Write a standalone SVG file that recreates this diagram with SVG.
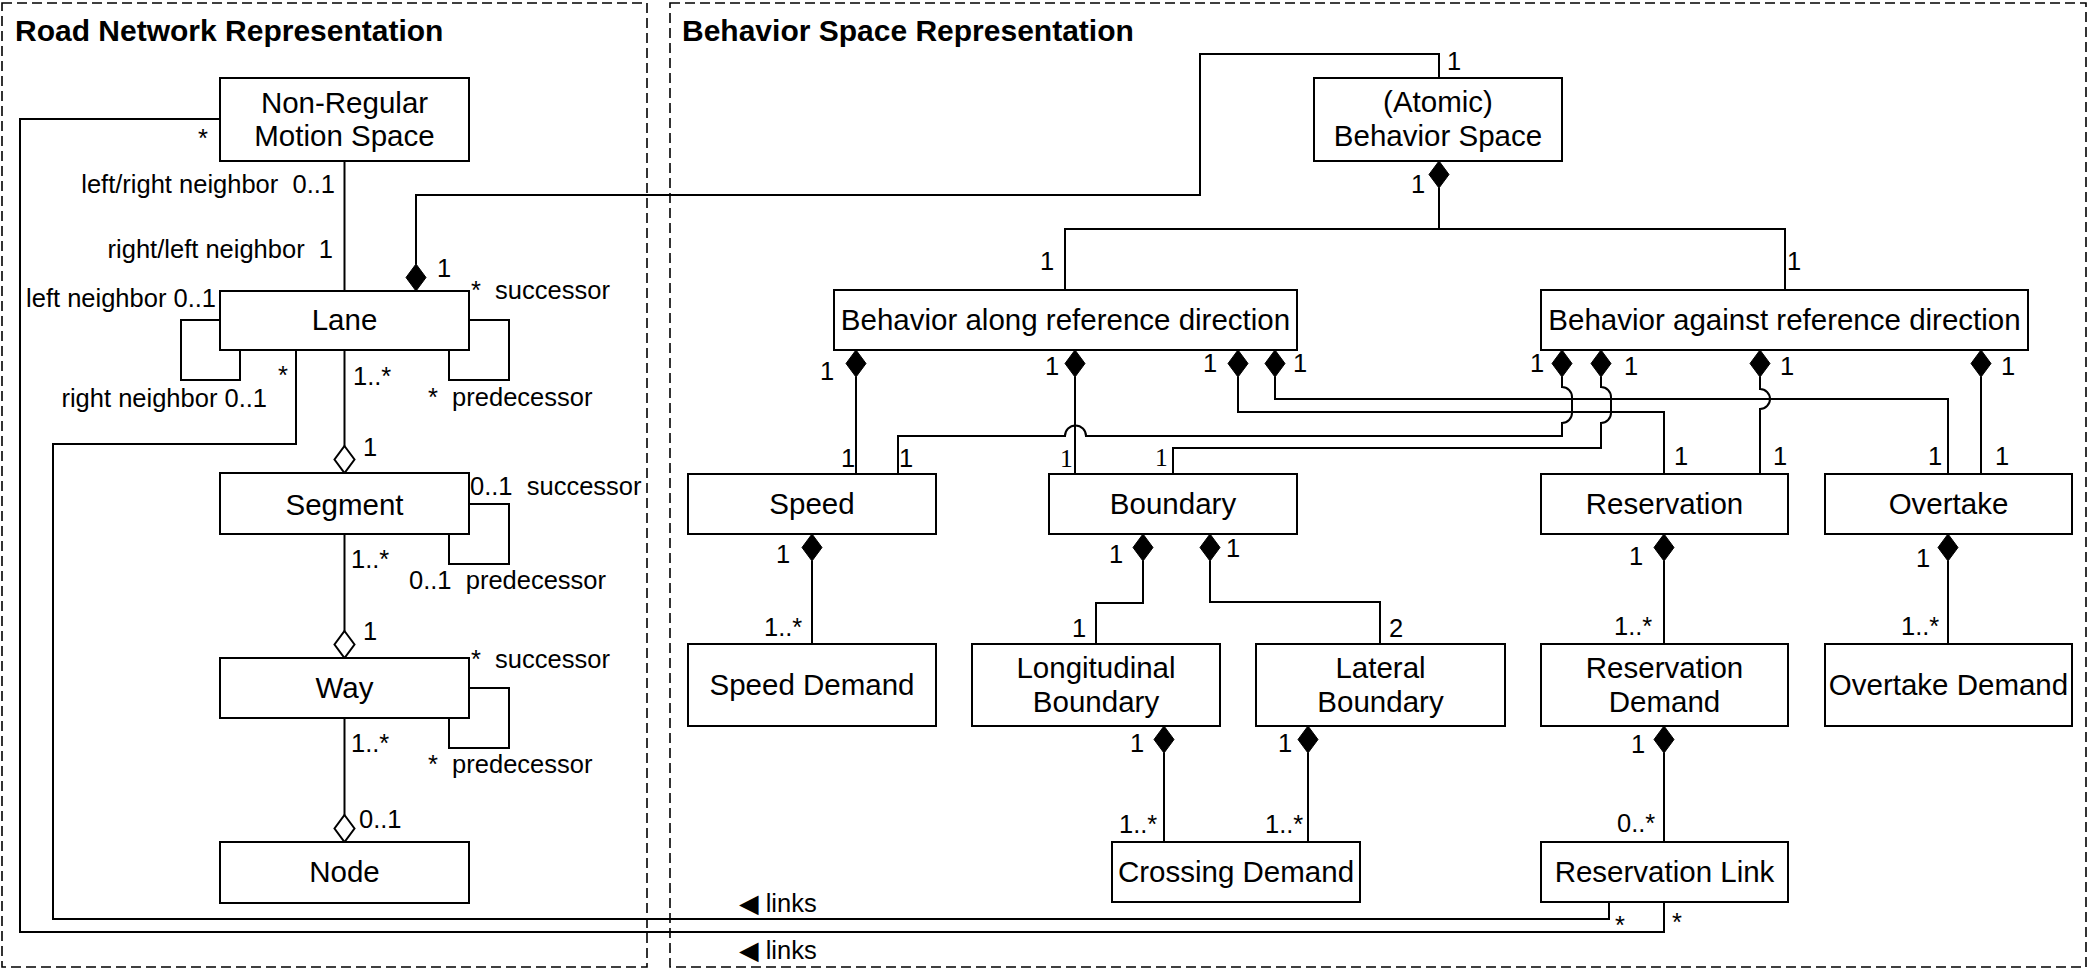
<svg xmlns="http://www.w3.org/2000/svg" width="2090" height="972" viewBox="0 0 2090 972">
<style>
text{font-family:"Liberation Sans",Arial,"DejaVu Sans",sans-serif;fill:#000}
.box{fill:#fff;stroke:#000;stroke-width:2}
.bl{font-size:29.5px;text-anchor:middle}
.lbl{font-size:25.5px;white-space:pre}
.end{text-anchor:end}
.serif{font-family:"Liberation Serif","Times New Roman",serif}
.title{font-size:30px;font-weight:bold}
.panel{fill:none;stroke:#000;stroke-width:1.6;stroke-dasharray:10 5}
.ln{fill:none;stroke:#000;stroke-width:2}
.fd{fill:#000;stroke:#000;stroke-width:1}
.hd{fill:#fff;stroke:#000;stroke-width:2}
</style>
<defs>
<polygon id="dm" points="0,0 10,13.5 0,27 -10,13.5"/>
</defs>
<rect width="2090" height="972" fill="#fff"/>
<g id="panels">
<rect class="panel" x="2" y="3" width="645" height="964"/>
<rect class="panel" x="670" y="3" width="1416" height="964"/>
<text class="title" x="15" y="41">Road Network Representation</text>
<text class="title" x="682" y="41">Behavior Space Representation</text>
</g>
<g id="connectors">
<path class="ln" d="M344.5,161 V291"/>
<path class="ln" d="M416,264 V195 H1200 V54 H1439 V78"/>
<path class="ln" d="M220,320 H181 V380 H240 V350"/>
<path class="ln" d="M469,320 H509 V380 H449 V350"/>
<path class="ln" d="M469,504 H509 V564 H449 V534"/>
<path class="ln" d="M469,688 H509 V748 H449 V718"/>
<path class="ln" d="M344.5,350 V446"/>
<path class="ln" d="M344.5,534 V631"/>
<path class="ln" d="M344.5,718 V815"/>
<path class="ln" d="M296,350 V444 H53 V919 H1609 V902"/>
<path class="ln" d="M220,119 H20 V932 H1664 V902"/>
<path class="ln" d="M1439,188 V229 M1065,290 V229 H1785 V290"/>
<path class="ln" d="M856,377 V474"/>
<path class="ln" d="M1075,377 V474"/>
<path class="ln" d="M1238,377 V412 H1664 V474"/>
<path class="ln" d="M1275,377 V399 H1948 V474"/>
<path class="ln" d="M1562,377 V387 A10,10 0 0 1 1572,397 V413 A10,10 0 0 1 1562,423 V436 H1086 A10.5,10.5 0 0 0 1065,436 H898 V474"/>
<path class="ln" d="M1601,377 V387 A10,10 0 0 1 1611,397 V413 A10,10 0 0 1 1601,423 V448 H1173 V474"/>
<path class="ln" d="M1760,377 V389 A10,10 0 0 1 1760,409 V474"/>
<path class="ln" d="M1981,377 V474"/>
<path class="ln" d="M812,561 V644"/>
<path class="ln" d="M1143,561 V603 H1096 V644"/>
<path class="ln" d="M1210,561 V602 H1380 V644"/>
<path class="ln" d="M1164,753 V842 M1308,753 V842"/>
<path class="ln" d="M1664,561 V644 M1664,753 V842"/>
<path class="ln" d="M1948,561 V644"/>
<use href="#dm" class="fd" x="416" y="264"/>
<use href="#dm" class="fd" x="1439" y="161"/>
<use href="#dm" class="fd" x="856" y="350"/>
<use href="#dm" class="fd" x="1075" y="350"/>
<use href="#dm" class="fd" x="1238" y="350"/>
<use href="#dm" class="fd" x="1275" y="350"/>
<use href="#dm" class="fd" x="1562" y="350"/>
<use href="#dm" class="fd" x="1601" y="350"/>
<use href="#dm" class="fd" x="1760" y="350"/>
<use href="#dm" class="fd" x="1981" y="350"/>
<use href="#dm" class="fd" x="812" y="534"/>
<use href="#dm" class="fd" x="1143" y="534"/>
<use href="#dm" class="fd" x="1210" y="534"/>
<use href="#dm" class="fd" x="1664" y="534"/>
<use href="#dm" class="fd" x="1948" y="534"/>
<use href="#dm" class="fd" x="1164" y="726"/>
<use href="#dm" class="fd" x="1308" y="726"/>
<use href="#dm" class="fd" x="1664" y="726"/>
<use href="#dm" class="hd" x="344.5" y="446"/>
<use href="#dm" class="hd" x="344.5" y="631"/>
<use href="#dm" class="hd" x="344.5" y="815"/>
</g>
<g id="labels">
<text class="lbl end" x="335" y="193">left/right neighbor  0..1</text>
<text class="lbl end" x="333" y="258">right/left neighbor  1</text>
<text class="lbl end" x="216" y="307">left neighbor 0..1</text>
<text class="lbl end" x="267" y="407">right neighbor 0..1</text>
<text class="lbl" x="198" y="147">*</text>
<text class="lbl" x="278" y="384">*</text>
<text class="lbl" x="437" y="277">1</text>
<text class="lbl" x="471" y="299">*  successor</text>
<text class="lbl" x="428" y="406">*  predecessor</text>
<text class="lbl" x="353" y="385">1..*</text>
<text class="lbl" x="363" y="456">1</text>
<text class="lbl" x="470" y="495">0..1  successor</text>
<text class="lbl" x="409" y="589">0..1  predecessor</text>
<text class="lbl" x="351" y="568">1..*</text>
<text class="lbl" x="363" y="640">1</text>
<text class="lbl" x="471" y="668">*  successor</text>
<text class="lbl" x="428" y="773">*  predecessor</text>
<text class="lbl" x="351" y="752">1..*</text>
<text class="lbl" x="359" y="828">0..1</text>
<text class="lbl" x="1447" y="70">1</text>
<text class="lbl" x="1411" y="193">1</text>
<text class="lbl" x="1040" y="270">1</text>
<text class="lbl" x="1787" y="270">1</text>
<text class="lbl" x="820" y="380">1</text>
<text class="lbl" x="1045" y="375">1</text>
<text class="lbl" x="1203" y="372">1</text>
<text class="lbl" x="1293" y="372">1</text>
<text class="lbl" x="1530" y="372">1</text>
<text class="lbl" x="1624" y="375">1</text>
<text class="lbl" x="1780" y="375">1</text>
<text class="lbl" x="2001" y="375">1</text>
<text class="lbl" x="841" y="467">1</text>
<text class="lbl" x="899" y="467">1</text>
<text class="lbl serif" x="1060" y="467">1</text>
<text class="lbl serif" x="1155" y="466">1</text>
<text class="lbl" x="1674" y="465">1</text>
<text class="lbl" x="1773" y="465">1</text>
<text class="lbl" x="1928" y="465">1</text>
<text class="lbl" x="1995" y="465">1</text>
<text class="lbl" x="776" y="563">1</text>
<text class="lbl" x="764" y="636">1..*</text>
<text class="lbl" x="1109" y="563">1</text>
<text class="lbl" x="1226" y="557">1</text>
<text class="lbl" x="1072" y="637">1</text>
<text class="lbl" x="1389" y="637">2</text>
<text class="lbl" x="1130" y="752">1</text>
<text class="lbl" x="1278" y="752">1</text>
<text class="lbl" x="1119" y="833">1..*</text>
<text class="lbl" x="1265" y="833">1..*</text>
<text class="lbl" x="1629" y="565">1</text>
<text class="lbl" x="1614" y="635">1..*</text>
<text class="lbl" x="1631" y="753">1</text>
<text class="lbl" x="1617" y="832">0..*</text>
<text class="lbl" x="1916" y="567">1</text>
<text class="lbl" x="1901" y="635">1..*</text>
<text class="lbl" x="1615" y="934">*</text>
<text class="lbl" x="1672" y="931">*</text>
<text class="lbl" x="739" y="912">◀ links</text>
<text class="lbl" x="739" y="959">◀ links</text>
</g>
<g id="n-nrms"><rect class="box" x="220" y="78" width="249" height="83"/><text class="bl" x="344.5" y="113">Non-Regular</text><text class="bl" x="344.5" y="146">Motion Space</text></g>
<g id="n-lane"><rect class="box" x="220" y="291" width="249" height="59"/><text class="bl" x="344.5" y="330">Lane</text></g>
<g id="n-segment"><rect class="box" x="220" y="473" width="249" height="61"/><text class="bl" x="344.5" y="515">Segment</text></g>
<g id="n-way"><rect class="box" x="220" y="658" width="249" height="60"/><text class="bl" x="344.5" y="698">Way</text></g>
<g id="n-node"><rect class="box" x="220" y="842" width="249" height="61"/><text class="bl" x="344.5" y="882">Node</text></g>
<g id="n-atomic"><rect class="box" x="1314" y="78" width="248" height="83"/><text class="bl" x="1438" y="112">(Atomic)</text><text class="bl" x="1438" y="146">Behavior Space</text></g>
<g id="n-along"><rect class="box" x="834" y="290" width="463" height="60"/><text class="bl" x="1065.5" y="330">Behavior along reference direction</text></g>
<g id="n-against"><rect class="box" x="1541" y="290" width="487" height="60"/><text class="bl" x="1784.5" y="330">Behavior against reference direction</text></g>
<g id="n-speed"><rect class="box" x="688" y="474" width="248" height="60"/><text class="bl" x="812" y="514">Speed</text></g>
<g id="n-boundary"><rect class="box" x="1049" y="474" width="248" height="60"/><text class="bl" x="1173" y="514">Boundary</text></g>
<g id="n-reservation"><rect class="box" x="1541" y="474" width="247" height="60"/><text class="bl" x="1664.5" y="514">Reservation</text></g>
<g id="n-overtake"><rect class="box" x="1825" y="474" width="247" height="60"/><text class="bl" x="1948.5" y="514">Overtake</text></g>
<g id="n-speeddemand"><rect class="box" x="688" y="644" width="248" height="82"/><text class="bl" x="812" y="695">Speed Demand</text></g>
<g id="n-longitudinal"><rect class="box" x="972" y="644" width="248" height="82"/><text class="bl" x="1096" y="678">Longitudinal</text><text class="bl" x="1096" y="712">Boundary</text></g>
<g id="n-lateral"><rect class="box" x="1256" y="644" width="249" height="82"/><text class="bl" x="1380.5" y="678">Lateral</text><text class="bl" x="1380.5" y="712">Boundary</text></g>
<g id="n-resdemand"><rect class="box" x="1541" y="644" width="247" height="82"/><text class="bl" x="1664.5" y="678">Reservation</text><text class="bl" x="1664.5" y="712">Demand</text></g>
<g id="n-overtakedemand"><rect class="box" x="1825" y="644" width="247" height="82"/><text class="bl" x="1948.5" y="695">Overtake Demand</text></g>
<g id="n-crossing"><rect class="box" x="1112" y="842" width="248" height="60"/><text class="bl" x="1236" y="882">Crossing Demand</text></g>
<g id="n-reslink"><rect class="box" x="1541" y="842" width="247" height="60"/><text class="bl" x="1664.5" y="882">Reservation Link</text></g>
</svg>
